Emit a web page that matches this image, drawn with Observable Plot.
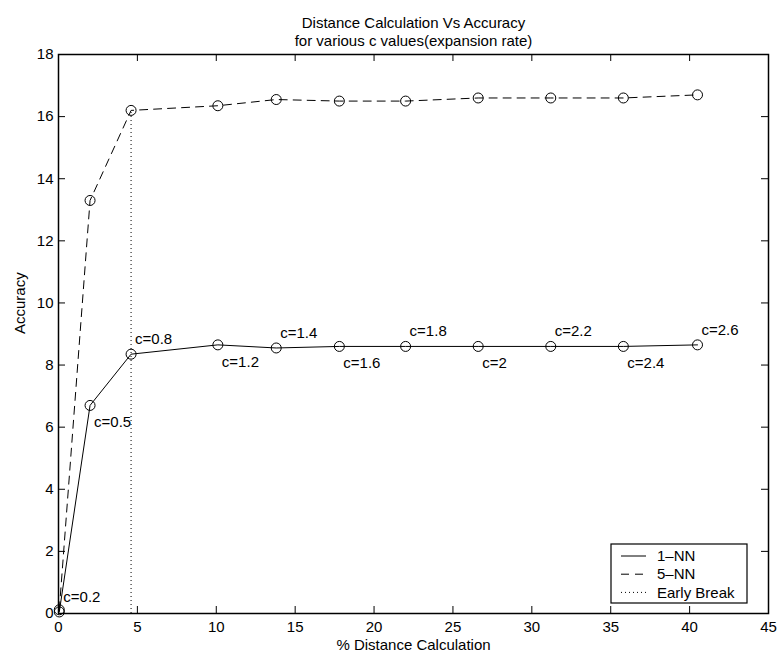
<!DOCTYPE html>
<html>
<head>
<meta charset="utf-8">
<script src="https://cdn.jsdelivr.net/npm/d3@7"></script>
<script src="https://cdn.jsdelivr.net/npm/@observablehq/plot@0.6"></script>
<style>
  body { margin: 0; background: #fff; }
  svg { display: block; }
</style>
</head>
<body>
<div id="chart"></div>
<script>
// Percentage of distance calculations for each expansion rate c
const distancePct = [0.05, 2.0, 4.6, 10.1, 13.8, 17.8, 22.0, 26.6, 31.2, 35.8, 40.5];
// Accuracy of the 1-NN and 5-NN searches
const accuracy1NN = [0.05, 6.7, 8.35, 8.65, 8.55, 8.6, 8.6, 8.6, 8.6, 8.6, 8.65];
const accuracy5NN = [0.12, 13.3, 16.2, 16.35, 16.55, 16.5, 16.5, 16.6, 16.6, 16.6, 16.7];
// Expansion rate used for each point
const cValues = ["0.2", "0.5", "0.8", "1.2", "1.4", "1.6", "1.8", "2", "2.2", "2.4", "2.6"];
// Early break position (index into the series above)
const earlyBreakIndex = 2;
// Axis ticks
const xTicks = [0, 5, 10, 15, 20, 25, 30, 35, 40, 45];
const yTicks = [0, 2, 4, 6, 8, 10, 12, 14, 16, 18];
// Legend entries
const legendLabels = ["1\u2013NN", "5\u2013NN", "Early Break"];
const legendDash = [null, "8,6", "1,3"];

const W = 779, H = 655;
const mt = 54, mb = 42, ml = 58, mr = 11;
const ph = H - mt - mb, pw = W - ml - mr;
const tick = 7;
const fs = 15;
const font = "'Liberation Sans', Arial, Helvetica, sans-serif";

const idx = d3.range(distancePct.length);
const above = idx.filter(i => i % 2 === 0);
const below = idx.filter(i => i % 2 === 1);

const chart = Plot.plot({
  width: W,
  height: H,
  marginTop: mt,
  marginBottom: mb,
  marginLeft: ml,
  marginRight: mr,
  style: { fontFamily: font, fontSize: fs + "px", background: "white", color: "black", overflow: "visible" },
  x: { domain: [0, 45] },
  y: { domain: [0, 18] },
  marks: [
    // tick labels
    Plot.axisX({ ticks: xTicks, tickSize: 0, tickPadding: 8, label: null, fontSize: fs }),
    Plot.axisY({ ticks: yTicks, tickSize: 0, tickPadding: 5, label: null, fontSize: fs }),
    // inward ticks on all four sides
    Plot.tickX(xTicks, { x: d => d, insetTop: ph - tick, stroke: "black" }),
    Plot.tickX(xTicks, { x: d => d, insetBottom: ph - tick, stroke: "black" }),
    Plot.tickY(yTicks, { y: d => d, insetRight: pw - tick, stroke: "black" }),
    Plot.tickY(yTicks, { y: d => d, insetLeft: pw - tick, stroke: "black" }),
    // early break marker
    Plot.ruleX([earlyBreakIndex], {
      x: i => distancePct[i], y1: 0, y2: i => accuracy5NN[i],
      stroke: "black", strokeWidth: 1, strokeDasharray: "1,3"
    }),
    // series
    Plot.line(idx, { x: i => distancePct[i], y: i => accuracy1NN[i], stroke: "black", strokeWidth: 1 }),
    Plot.line(idx, { x: i => distancePct[i], y: i => accuracy5NN[i], stroke: "black", strokeWidth: 1, strokeDasharray: "8,6" }),
    Plot.dot(idx, { x: i => distancePct[i], y: i => accuracy1NN[i], r: 5, stroke: "black", fill: "none", strokeWidth: 1 }),
    Plot.dot(idx, { x: i => distancePct[i], y: i => accuracy5NN[i], r: 5, stroke: "black", fill: "none", strokeWidth: 1 }),
    // c labels on the 1-NN curve
    Plot.text(above, {
      x: i => distancePct[i], y: i => accuracy1NN[i], text: i => "c=" + cValues[i],
      textAnchor: "start", lineAnchor: "middle", dx: 4, dy: -15, fontSize: fs, fill: "black"
    }),
    Plot.text(below, {
      x: i => distancePct[i], y: i => accuracy1NN[i], text: i => "c=" + cValues[i],
      textAnchor: "start", lineAnchor: "middle", dx: 4, dy: 17, fontSize: fs, fill: "black"
    }),
    // axis titles and chart title
    Plot.text(["% Distance Calculation"], { text: d => d, frameAnchor: "bottom", dy: 32, lineAnchor: "middle", fontSize: fs }),
    Plot.text(["Accuracy"], { text: d => d, frameAnchor: "left", dx: -38, rotate: -90, lineAnchor: "middle", fontSize: fs }),
    Plot.text(["Distance Calculation Vs Accuracy"], { text: d => d, frameAnchor: "top", dy: -31, lineAnchor: "middle", fontSize: fs }),
    Plot.text(["for various c values(expansion rate)"], { text: d => d, frameAnchor: "top", dy: -13, lineAnchor: "middle", fontSize: fs }),
    Plot.frame({ stroke: "black", strokeWidth: 1.5 })
  ]
});

// Legend box in the lower-right corner of the axes
const svg = d3.select(chart);
const lx1 = W - mr - 21, ly2 = H - mb - 10;
const lw = 136, lh = 59;
const lg = svg.append("g")
  .attr("font-family", font)
  .attr("font-size", fs)
  .attr("text-anchor", "start");
lg.append("rect")
  .attr("x", lx1 - lw).attr("y", ly2 - lh)
  .attr("width", lw).attr("height", lh)
  .attr("fill", "white").attr("stroke", "black").attr("stroke-width", 1.2);
legendLabels.forEach((label, k) => {
  const cy = ly2 - lh + 12 + k * 18.2;
  lg.append("line")
    .attr("x1", lx1 - lw + 10).attr("x2", lx1 - lw + 35)
    .attr("y1", cy).attr("y2", cy)
    .attr("stroke", "black").attr("stroke-width", 1)
    .attr("stroke-dasharray", legendDash[k]);
  lg.append("text")
    .attr("x", lx1 - lw + 46).attr("y", cy)
    .attr("dy", "0.35em")
    .attr("text-anchor", "start")
    .attr("fill", "black")
    .text(label);
});

document.getElementById("chart").appendChild(chart);
</script>
</body>
</html>
